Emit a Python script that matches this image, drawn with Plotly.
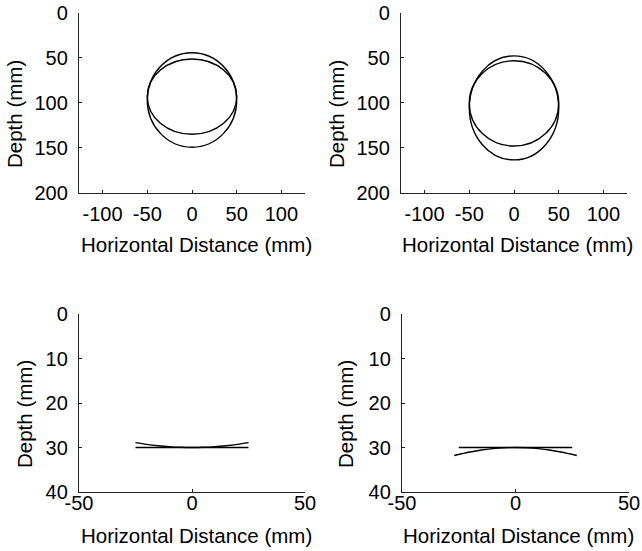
import plotly.graph_objects as go

# ---------------- data ----------------
# Top panels: ellipses (centre x, centre depth, semi-axis x, semi-axis depth)
tl_cx = [0, 0]
tl_cy = [97.2, 93.5]
tl_ax = [50, 50]
tl_ay = [52.5, 41.8]

tr_cx = [0, 0]
tr_cy = [106.0, 101.0]
tr_ax = [50, 50]
tr_ay = [57.8, 47.4]

# Bottom panels: flat line and curved line
bl_flat_x = [-25, 25]
bl_flat_y = [30, 30]
bl_curve_x = [-25, -20, -15, -10, -5, 0, 5, 10, 15, 20, 25]
bl_curve_y = [28.9, 29.3, 29.6, 29.82, 29.96, 30, 29.96, 29.82, 29.6, 29.3, 28.9]

br_flat_x = [-25, 25]
br_flat_y = [30, 30]
br_curve_x = [-27, -20, -15, -10, -5, 0, 5, 10, 15, 20, 27]
br_curve_y = [31.8, 31.0, 30.55, 30.25, 30.06, 30, 30.06, 30.25, 30.55, 31.0, 31.8]

top_xticks = [-100, -50, 0, 50, 100]
top_xtext = ["-100", "-50", "0", "50", "100"]
top_yticks = [0, 50, 100, 150, 200]
bot_xticks = [-50, 0, 50]
bot_xtext = ["-50", "0", "50"]
bot_yticks = [0, 10, 20, 30, 40]

x_title = "Horizontal Distance (mm)"
y_title = "Depth (mm)"

# ---------------- figure ----------------
W, H = 642, 551
FONT = dict(family="Liberation Sans, Arial, Helvetica, sans-serif", size=20, color="black")
TFONT = dict(FONT, size=20.5)

fig = go.Figure()

LINE = dict(color="black", width=1.4)

fig.add_trace(go.Scatter(x=bl_flat_x, y=bl_flat_y, mode="lines", line=LINE, xaxis="x3", yaxis="y3", showlegend=False))
fig.add_trace(go.Scatter(x=bl_curve_x, y=bl_curve_y, mode="lines", line=dict(LINE, shape="spline"), xaxis="x3", yaxis="y3", showlegend=False))
fig.add_trace(go.Scatter(x=br_flat_x, y=br_flat_y, mode="lines", line=LINE, xaxis="x4", yaxis="y4", showlegend=False))
fig.add_trace(go.Scatter(x=br_curve_x, y=br_curve_y, mode="lines", line=dict(LINE, shape="spline"), xaxis="x4", yaxis="y4", showlegend=False))
fig.add_trace(go.Scatter(x=[0], y=[100], mode="markers", marker=dict(opacity=0), xaxis="x", yaxis="y", showlegend=False, hoverinfo="skip"))
fig.add_trace(go.Scatter(x=[0], y=[100], mode="markers", marker=dict(opacity=0), xaxis="x2", yaxis="y2", showlegend=False, hoverinfo="skip"))

shapes = []
for cx, cy, ax, ay in zip(tl_cx, tl_cy, tl_ax, tl_ay):
    shapes.append(dict(type="circle", xref="x", yref="y", x0=cx - ax, x1=cx + ax, y0=cy - ay, y1=cy + ay, line=LINE))
for cx, cy, ax, ay in zip(tr_cx, tr_cy, tr_ax, tr_ay):
    shapes.append(dict(type="circle", xref="x2", yref="y2", x0=cx - ax, x1=cx + ax, y0=cy - ay, y1=cy + ay, line=LINE))


def px_dom_x(a, b):
    return [a / W, b / W]


def px_dom_y(top, bottom):
    return [1 - bottom / H, 1 - top / H]


common = dict(showgrid=False, zeroline=False, showline=True, linecolor="#222", linewidth=1.2,
              ticks="inside", ticklen=3, tickcolor="#222", tickfont=FONT, mirror=False, automargin=False)

fig.update_layout(
    template="none",
    width=W, height=H,
    margin=dict(l=0, r=0, t=0, b=0, autoexpand=False),
    paper_bgcolor="white", plot_bgcolor="white",
    font=FONT,
    shapes=shapes,
    hovermode=False,
    xaxis=dict(common, domain=px_dom_x(79, 305), range=[-126.4, 126.4], tickvals=top_xticks, ticktext=top_xtext, anchor="y", ticklabelstandoff=3),
    yaxis=dict(common, domain=px_dom_y(12.5, 192.5), range=[200, 0], tickvals=top_yticks, anchor="x", ticklabelstandoff=6),
    xaxis2=dict(common, domain=px_dom_x(401, 627), range=[-126.4, 126.4], tickvals=top_xticks, ticktext=top_xtext, anchor="y2", ticklabelstandoff=3),
    yaxis2=dict(common, domain=px_dom_y(12.5, 192.5), range=[200, 0], tickvals=top_yticks, anchor="x2", ticklabelstandoff=6),
    xaxis3=dict(common, domain=px_dom_x(79, 305), range=[-50, 50], tickvals=bot_xticks, ticktext=bot_xtext, anchor="y3", ticklabelstandoff=-7),
    yaxis3=dict(common, domain=px_dom_y(314, 492), range=[40, 0], tickvals=bot_yticks, anchor="x3", ticklabelstandoff=6),
    xaxis4=dict(common, domain=px_dom_x(402, 629), range=[-50, 50], tickvals=bot_xticks, ticktext=bot_xtext, anchor="y4", ticklabelstandoff=-7),
    yaxis4=dict(common, domain=px_dom_y(314, 492), range=[40, 0], tickvals=bot_yticks, anchor="x4", ticklabelstandoff=6),
)

annos = []
for xc, yc in [(196, 244), (517, 244), (196, 535), (518, 535)]:
    annos.append(dict(text=x_title, x=xc / W, y=1 - yc / H, xref="paper", yref="paper",
                      xanchor="center", yanchor="middle", showarrow=False, font=TFONT))
for xc, yc in [(15, 114), (337, 114), (24, 414), (345, 414)]:
    annos.append(dict(text=y_title, x=xc / W, y=1 - yc / H, xref="paper", yref="paper",
                      xanchor="center", yanchor="middle", showarrow=False, textangle=-90, font=TFONT))
fig.update_layout(annotations=annos)

fig.write_html("out.html", config={"displayModeBar": False, "staticPlot": True},
               post_script="document.body.style.margin='0';document.body.style.overflow='hidden';")
